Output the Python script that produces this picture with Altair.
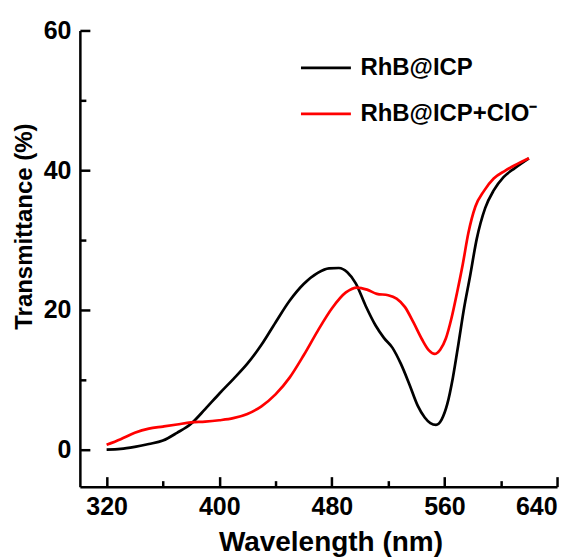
import altair as alt
import pandas as pd

# ---- data ----
black_x = [320, 330, 340, 350, 360, 370, 380, 390, 400, 410, 420, 430, 440, 450, 460, 470, 478, 485,
           491, 497, 504, 511, 517, 523, 529, 535, 541, 546, 550, 554, 558, 562, 566, 570, 574, 578, 583, 589,
           595, 602, 610, 620]
black_y = [0.0, 0.1, 0.4, 0.8, 1.3, 2.4, 3.7, 5.8, 8.0, 10.1, 12.3, 15.0, 18.2, 21.3, 23.7, 25.3, 25.95, 26.0,
           25.4, 23.8, 20.6, 17.8, 16.0, 14.6, 12.3, 9.4, 6.3, 4.6, 3.8, 3.55, 4.3, 6.5, 10.3, 15.2, 20.3, 24.6, 30.2, 34.6,
           37.1, 39.0, 40.3, 41.7]

red_x = [320, 330, 340, 350, 360, 370, 380, 390, 400, 410, 420, 430, 440, 450, 460, 470, 480, 490, 498,
         505, 512, 520, 526, 532, 538, 544, 549, 553, 557, 561, 565, 569, 573, 577, 582, 588, 595, 603,
         610, 620]
red_y = [0.7, 1.5, 2.4, 3.0, 3.3, 3.6, 3.9, 4.0, 4.2, 4.5, 5.1, 6.2, 7.9, 10.3, 13.5, 17.0, 20.2, 22.5, 23.2,
         22.9, 22.3, 22.1, 21.6, 20.4, 18.2, 15.8, 14.2, 13.7, 14.3, 15.9, 18.8, 22.5, 26.5, 31.0, 34.8, 37.0,
         38.8, 39.9, 40.7, 41.7]

series_names = ["RhB@ICP", "RhB@ICP+ClO\u207b"]
series_colors = ["#000000", "#ff0000"]

x_major = [320, 400, 480, 560, 640]
x_minor = [360, 440, 520, 600]
y_major = [0, 20, 40, 60]
y_minor = [10, 30, 50]

x_domain = [301, 640]
y_domain = [-5.3, 60]

W, H = 478, 457
FONT = "Liberation Sans"

df = pd.concat([
    pd.DataFrame({"wl": black_x, "T": black_y, "series": series_names[0], "o": range(len(black_x))}),
    pd.DataFrame({"wl": red_x, "T": red_y, "series": series_names[1], "o": range(len(red_x))}),
])

xscale = alt.Scale(domain=x_domain, nice=False, zero=False)
yscale = alt.Scale(domain=y_domain, nice=False, zero=False)

lines = alt.Chart(df).mark_line(strokeWidth=2.7, interpolate="monotone").encode(
    x=alt.X("wl:Q", scale=xscale, title="Wavelength (nm)",
            axis=alt.Axis(values=x_major, ticks=False, labelPadding=8, grid=False, orient="bottom",
                          labelFontSize=25, labelFont=FONT, labelFontWeight="bold", labelColor="black",
                          titleFontSize=28, titleFont=FONT, titleFontWeight="bold", titleColor="black",
                          titleX=251, titleY=64, titleBaseline="alphabetic",
                          domainColor="black", domainWidth=2.5)),
    y=alt.Y("T:Q", scale=yscale, title="Transmittance (%)",
            axis=alt.Axis(values=y_major, ticks=False, labelPadding=9, grid=False, orient="left",
                          labelFontSize=25, labelFont=FONT, labelFontWeight="bold", labelColor="black",
                          titleFontSize=24, titleFont=FONT, titleFontWeight="bold", titleColor="black",
                          titleX=-55, titleY=196, titleBaseline="middle", titleAngle=-90,
                          domainColor="black", domainWidth=2.5)),
    color=alt.Color("series:N", scale=alt.Scale(domain=series_names, range=series_colors),
                    legend=alt.Legend(title=None, orient="none", legendX=220, legendY=11,
                                      symbolType="stroke", symbolSize=2500, symbolStrokeWidth=2.7,
                                      labelFontSize=24, labelFont=FONT, labelFontWeight="bold",
                                      labelColor="black", labelOffset=8, rowPadding=7, labelLimit=0)),
    order="o:Q",
)


def tick_axis(values, size, orient):
    return alt.Axis(values=values, orient=orient, offset=-size, tickSize=size, tickWidth=2.5,
                    tickColor="black", domain=False, labels=False, grid=False, title=None)


def tick_layer(channel, values, size):
    base = alt.Chart(df).mark_line(opacity=0)
    if channel == "x":
        return base.encode(
            x=alt.X("wl:Q", scale=xscale, axis=tick_axis(values, size, "bottom")),
            y=alt.Y("T:Q", scale=yscale, axis=None))
    return base.encode(
        x=alt.X("wl:Q", scale=xscale, axis=None),
        y=alt.Y("T:Q", scale=yscale, axis=tick_axis(values, size, "left")))


chart = alt.layer(
    lines,
    tick_layer("x", x_major, 10),
    tick_layer("x", x_minor, 6),
    tick_layer("y", y_major, 10),
    tick_layer("y", y_minor, 6),
).resolve_axis(
    x="independent", y="independent"
).properties(
    width=W, height=H,
    background="white",
    autosize=alt.AutoSizeParams(type="none"),
    padding={"left": 72, "top": 22, "right": 20, "bottom": 72},
).configure_view(stroke=None)

chart.save("out.html", embed_options={"renderer": "svg", "actions": False})
